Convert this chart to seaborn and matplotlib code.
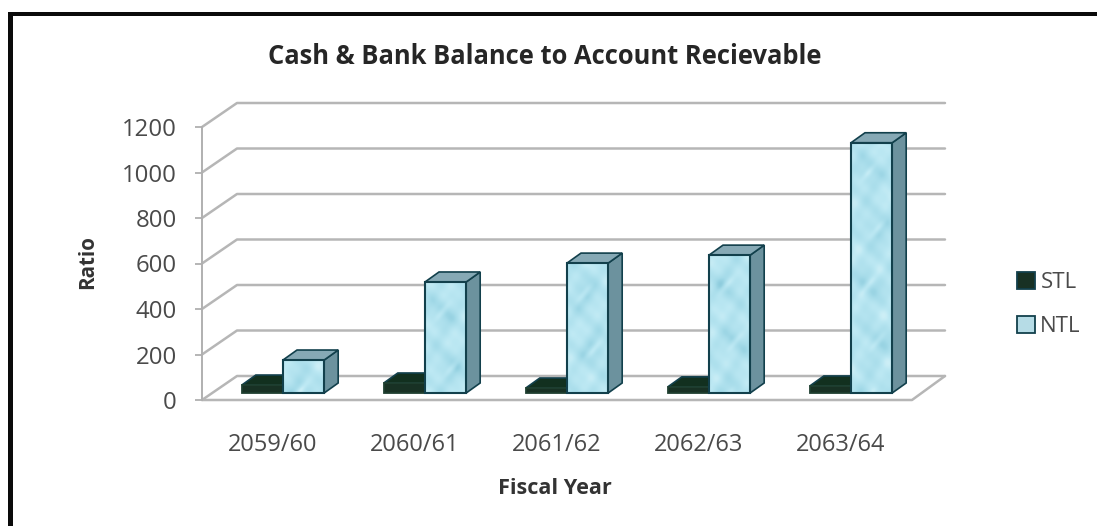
import numpy as np
import pandas as pd
import matplotlib
matplotlib.use("Agg")
import matplotlib.pyplot as plt
from matplotlib.patches import Polygon, Rectangle
from matplotlib.colors import LinearSegmentedColormap
import seaborn as sns

# Chart values
fiscal_years = ["2059/60", "2060/61", "2061/62", "2062/63", "2063/64"]
stl_ratio = [35, 44, 22, 27, 31]
ntl_ratio = [145, 488, 571, 606, 1100]
y_ticks = [0, 200, 400, 600, 800, 1000, 1200]

W, H = 1097, 526
PLOT_L, PLOT_R, PLOT_T, PLOT_B = 202, 912, 127, 400

sns.set_theme(style="white")
plt.rcParams["font.family"] = ["Open Sans", "DejaVu Sans"]

fig = plt.figure(figsize=(W / 100, H / 100), dpi=100, facecolor="white")
ax = fig.add_axes([PLOT_L / W, 1 - PLOT_B / H, (PLOT_R - PLOT_L) / W, (PLOT_B - PLOT_T) / H])
ax.set_facecolor("none")

frame = pd.DataFrame({
    "year": fiscal_years * 2,
    "series": ["STL"] * 5 + ["NTL"] * 5,
    "ratio": stl_ratio + ntl_ratio,
})
palette = {"STL": "#143524", "NTL": "#aee0ee"}
sns.barplot(data=frame, x="year", y="ratio", hue="series", palette=palette, width=0.58,
            gap=0, dodge=True, edgecolor="#12404c", linewidth=1.3, ax=ax, zorder=5)

ax.set_xlim(-0.5, 4.5)
ax.set_ylim(0, 1200)

# Pixel lengths expressed in data units
px_x = 5 / (PLOT_R - PLOT_L)
px_y = 1200 / (PLOT_B - PLOT_T)

# Back wall and floor of the pseudo-3D box
wall_dx, wall_dy = 35 * px_x, 24 * px_y
grid_kw = dict(color="#b6b6b6", lw=1.8, clip_on=False, zorder=1, solid_capstyle="round")
for v in y_ticks:
    ax.plot([-0.5, -0.5 + wall_dx, 4.5 + wall_dx - 2 * px_x], [v, v + wall_dy, v + wall_dy], **grid_kw)
ax.plot([-0.5, 4.5, 4.5 + wall_dx - 2 * px_x], [0, 0, wall_dy], **grid_kw)


def water_texture(w, h, shift):
    """Pale mottled surface with large soft droplets, sized in pixels."""
    yy, xx = np.mgrid[0:h, 0:w]
    yy = yy + shift
    t = (np.sin(xx / 5 + yy / 9) + np.sin(yy / 6.5 - xx / 7) + 0.7 * np.sin((xx - yy) / 3.4)
         + 0.5 * np.sin(xx / 2.6 + yy / 4.1)) / 3.2
    t = 0.60 + 0.24 * t
    for k, cy in enumerate(np.arange(30, h + 40, 56)):
        cx = 0.62 * w if k % 2 else 0.4 * w
        dy_ = (yy - shift - cy) / 17
        dx_ = (xx - cx) / 14
        r2 = dx_ ** 2 + dy_ ** 2
        t -= 0.30 * np.exp(-r2 * 1.2)
        # slanted glint on each droplet
        u = (dx_ - dy_) / 1.4
        v = (dx_ + dy_) / 1.4
        t += 0.34 * np.exp(-((u * 1.4) ** 2 + (v * 5) ** 2))
    return np.clip(t, 0, 1)


water_cmap = LinearSegmentedColormap.from_list("water", ["#7fc3d6", "#a5dbe9", "#bce8f3", "#e4f8fb"])

# Bars stand slightly inside the floor, with a top and a side face for depth
bar_dx, bar_dy = 10 * px_x, 7 * px_y
depth_dx, depth_dy = 14 * px_x, 10 * px_y
faces = {
    "STL": ("#12301f", "#0c2418"),
    "NTL": ("#86a9b5", "#6c929e"),
}
for container, name in zip(ax.containers, ["STL", "NTL"]):
    for i, bar in enumerate(container):
        bar.set_x(bar.get_x() + bar_dx)
        bar.set_y(bar_dy)
        x0, x1 = bar.get_x(), bar.get_x() + bar.get_width()
        y0, y1 = bar.get_y(), bar.get_y() + bar.get_height()
        z = 4 if name == "STL" else 6
        bar.set_zorder(z + 0.5)
        top = Polygon([(x0, y1), (x1, y1), (x1 + depth_dx, y1 + depth_dy), (x0 + depth_dx, y1 + depth_dy)],
                      closed=True, fc=faces[name][0], ec="#12404c", lw=1.2, zorder=z, clip_on=False)
        side = Polygon([(x1, y0), (x1 + depth_dx, y0 + depth_dy), (x1 + depth_dx, y1 + depth_dy), (x1, y1)],
                       closed=True, fc=faces[name][1], ec="#12404c", lw=1.2, zorder=z, clip_on=False)
        ax.add_patch(side)
        ax.add_patch(top)
        if name == "NTL":
            w_px = int(round((x1 - x0) / px_x))
            h_px = max(int(round((y1 - y0) / px_y)), 2)
            im = ax.imshow(water_texture(w_px, h_px, i * 17), extent=(x0, x1, y0, y1), aspect="auto",
                           cmap=water_cmap, vmin=0, vmax=1, origin="upper", zorder=6.6, interpolation="bilinear")
            im.set_clip_path(Rectangle((x0, y0), x1 - x0, y1 - y0, transform=ax.transData))
            ax.add_patch(Rectangle((x0, y0), x1 - x0, y1 - y0, fc="none", ec="#12404c", lw=1.5, zorder=6.8))
        else:
            bar.set_edgecolor("#1f3f30")

ax.set_xlim(-0.5, 4.5)
ax.set_ylim(0, 1200)

# Axes, ticks and text
for s in ("top", "right", "bottom"):
    ax.spines[s].set_visible(False)
ax.spines["left"].set_color("#b0b0b0")
ax.spines["left"].set_linewidth(1.4)
ax.spines["left"].set_zorder(2)
ax.set_yticks(y_ticks)
ax.tick_params(axis="y", left=True, length=5, width=1.3, color="#b0b0b0", pad=13,
               labelsize=17.3, labelcolor="#4a4a4a")
ax.tick_params(axis="x", bottom=False, length=0, pad=24, labelsize=17, labelcolor="#4a4a4a")

ax.set_ylabel("Ratio", fontsize=14.8, fontweight="bold", color="#333333", va="center")
ax.yaxis.set_label_coords((88 - PLOT_L) / (PLOT_R - PLOT_L), 0.505)
ax.set_xlabel("Fiscal Year", fontsize=15.6, fontweight="bold", color="#333333", va="center")
ax.xaxis.set_label_coords((555 - PLOT_L) / (PLOT_R - PLOT_L), -(488 - PLOT_B) / (PLOT_B - PLOT_T))
ax.set_title("Cash & Bank Balance to Account Recievable", fontsize=18.4, fontweight="bold", color="#262626",
             x=(545 - PLOT_L) / (PLOT_R - PLOT_L), y=(PLOT_B - 56) / (PLOT_B - PLOT_T), va="center", pad=0)

# Legend on the right
handles, labels = ax.get_legend_handles_labels()
leg = ax.legend(handles, labels, loc="center left", frameon=False, fontsize=16,
                bbox_to_anchor=((1017 - PLOT_L) / (PLOT_R - PLOT_L), (PLOT_B - 304.5) / (PLOT_B - PLOT_T)),
                handlelength=0.8, handleheight=0.8, handletextpad=0.25, labelspacing=1.05, borderpad=0,
                borderaxespad=0, labelcolor="#4a4a4a")

# Heavy border along the top and left edges of the picture
fig.add_artist(Rectangle((8 / W, 0), 4.5 / W, 1 - 12 / H, transform=fig.transFigure, fc="#0a0a0a", ec="none"))
fig.add_artist(Rectangle((8 / W, 1 - 15.5 / H), 1 - 8 / W, 3.5 / H, transform=fig.transFigure, fc="#0a0a0a", ec="none"))

fig.savefig("out.png", dpi=100, facecolor="white")
